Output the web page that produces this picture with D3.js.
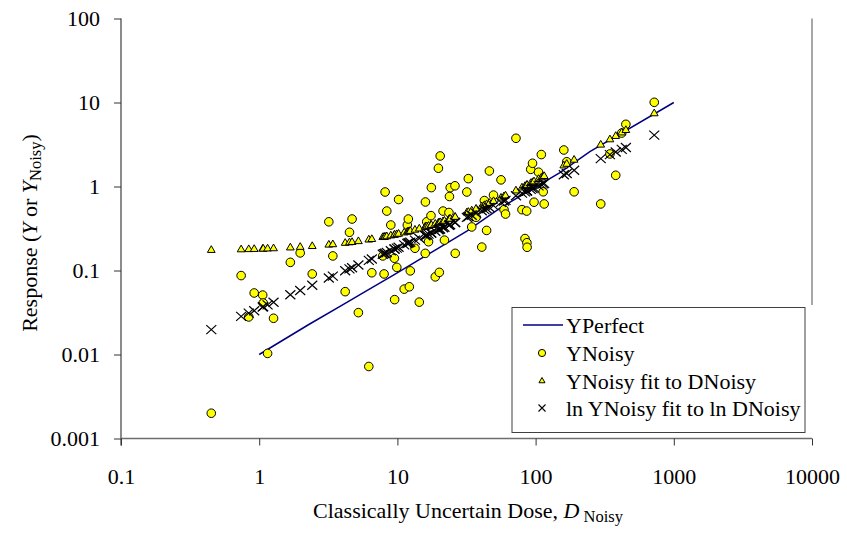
<!DOCTYPE html>
<html><head><meta charset="utf-8">
<script src="https://cdn.jsdelivr.net/npm/d3@7"></script>
<style>
body{margin:0;background:#fff}
svg{display:block}
text{font-family:"Liberation Serif","Times New Roman",serif;fill:#000}
</style>
</head><body>
<svg id="c" width="847" height="537"></svg>
<script>
const xTickValues=[0.1,1,10,100,1000,10000];
const xTickLabels=["0.1","1","10","100","1000","10000"];
const yTickValues=[0.001,0.01,0.1,1,10,100];
const yTickLabels=["0.001","0.01","0.1","1","10","100"];

const dNoisy=[0.45,0.74,0.84,0.92,1.06,1.07,1.15,1.27,1.68,1.98,
2.42,3.19,3.41,4.19,4.50,4.70,5.22,6.21,6.53,7.84,
8.01,8.15,8.38,8.96,9.51,9.55,9.90,10.2,11.2,11.8,
12.0,12.2,12.4,13.4,14.4,15.9,15.95,16.3,16.8,17.5,
17.6,18.8,19.8,20.1,20.4,21.4,21.9,23.6,23.8,24.1,
26.1,26.2,31.8,32.6,34.5,37.1,40.8,42.6,44.2,46.3,
49.6,56.2,59.1,60.6,72.1,79.7,83.8,86.2,86.5,86.8,
92.2,95.0,97.4,105,110,113.5,115.4,160,168,190,
296,345,380,420,450,722];

const yNoisy=[0.0020,0.087,0.028,0.054,0.051,0.041,0.0103,0.027,0.125,0.162,
0.091,0.38,0.149,0.056,0.285,0.41,0.0315,0.0072,0.094,0.149,
0.091,0.86,0.51,0.348,0.14,0.045,0.109,0.70,0.060,0.348,
0.41,0.064,0.099,0.184,0.042,0.16,0.654,0.38,0.22,0.45,
0.97,0.084,1.65,0.095,2.31,0.51,0.23,0.49,0.76,0.97,
1.02,0.16,0.86,1.24,0.33,0.43,0.19,0.68,0.30,1.53,
0.79,1.20,0.53,0.47,3.75,0.53,0.24,0.51,0.214,0.189,
1.60,1.89,0.65,1.48,2.40,0.865,0.62,2.72,1.97,0.865,
0.62,2.44,1.36,4.33,5.50,10.05];

const yFitLinear=[0.1745,0.1774,0.1784,0.1792,0.1806,0.1807,0.1815,0.1827,0.1868,0.1898,
0.1942,0.2019,0.2041,0.2119,0.2150,0.2170,0.2222,0.2321,0.2353,0.2484,
0.2501,0.2515,0.2538,0.2596,0.2651,0.2655,0.2690,0.2720,0.2820,0.2880,
0.2900,0.2920,0.2940,0.3040,0.3140,0.3290,0.3295,0.3330,0.3380,0.3450,
0.3460,0.3580,0.3680,0.3710,0.3740,0.3840,0.3890,0.4060,0.4080,0.4110,
0.4310,0.4320,0.4880,0.4960,0.5150,0.5410,0.5780,0.5960,0.6120,0.6330,
0.6660,0.7320,0.7610,0.7760,0.8910,0.9670,1.008,1.032,1.035,1.038,
1.092,1.120,1.144,1.220,1.270,1.305,1.324,1.770,1.850,2.070,
3.130,3.620,3.970,4.370,4.670,7.390];

const yFitLog=[0.0198,0.0284,0.0311,0.0332,0.0368,0.0371,0.0390,0.0419,0.0514,0.0578,
0.0668,0.0815,0.0856,0.0993,0.1046,0.1079,0.1164,0.1319,0.1368,0.1561,
0.1586,0.1606,0.1638,0.1719,0.1795,0.1800,0.1848,0.1888,0.2020,0.2098,
0.2123,0.2149,0.2174,0.2299,0.2422,0.2602,0.2608,0.2649,0.2707,0.2787,
0.2799,0.2936,0.3048,0.3081,0.3114,0.3224,0.3278,0.3459,0.3480,0.3512,
0.3721,0.3731,0.4291,0.4369,0.4551,0.4796,0.5136,0.5299,0.5443,0.5628,
0.5916,0.6474,0.6714,0.6838,0.7748,0.8331,0.8636,0.8815,0.8837,0.8859,
0.9253,0.9456,0.9629,1.0165,1.0512,1.0753,1.0882,1.378,1.427,1.560,
2.148,2.399,2.573,2.766,2.907,4.089];

const dPerfect=[1,2.27,4.07,6.01,9.36,20.4,31.8,55.3,150,247,1000];
const yPerfect=[0.01,0.0226,0.0395,0.0575,0.088,0.19,0.295,0.552,1.46,2.6,10];

const legendLabels=["YPerfect","YNoisy","YNoisy fit to DNoisy","ln YNoisy fit to ln DNoisy"];

const svg=d3.select("#c");
svg.append("rect").attr("width",847).attr("height",537).attr("fill","#fff");

const x=d3.scaleLog().domain([0.1,10000]).range([121,812]);
const y=d3.scaleLog().domain([0.001,100]).range([438.5,18.5]);

const axisColor="#6e6e6e";
svg.append("line").attr("x1",812).attr("x2",812).attr("y1",y(100)).attr("y2",305)
  .attr("stroke","#8a8a8a").attr("stroke-width",1.5);

// Y axis
const gy=svg.append("g").attr("transform",`translate(${x(0.1)},0)`)
  .call(d3.axisLeft(y).tickValues(yTickValues).tickSize(7).tickPadding(14)
    .tickFormat((d,i)=>yTickLabels[i]));
gy.select(".domain").attr("stroke",axisColor).attr("stroke-width",1.6).attr("d",`M0,${y(100)}V${y(0.001)+7}`);
gy.selectAll(".tick line").attr("stroke","#333").attr("stroke-width",1);
gy.selectAll(".tick text").attr("font-size",22).attr("font-family","Liberation Serif").attr("fill","#000");

// X axis
const gx=svg.append("g").attr("transform",`translate(0,${y(0.001)})`)
  .call(d3.axisBottom(x).tickValues(xTickValues).tickSize(7).tickPadding(23)
    .tickFormat((d,i)=>xTickLabels[i]));
gx.select(".domain").attr("stroke",axisColor).attr("stroke-width",1.6).attr("d",`M${x(0.1)},0H${x(10000)}`);
gx.selectAll(".tick line").attr("stroke","#333").attr("stroke-width",1);
gx.selectAll(".tick text").attr("font-size",22).attr("font-family","Liberation Serif").attr("fill","#000");

// YPerfect line
const perfect=dPerfect.map((d,i)=>[d,yPerfect[i]]);
svg.append("path").datum(perfect)
  .attr("d",d3.line().x(d=>x(d[0])).y(d=>y(d[1])))
  .attr("fill","none").attr("stroke","#000080").attr("stroke-width",1.5);

const samples=dNoisy.map((d,i)=>({d,yn:yNoisy[i],yl:yFitLinear[i],yg:yFitLog[i]}));
svg.append("g").selectAll("circle").data(samples).join("circle")
  .attr("cx",s=>x(s.d)).attr("cy",s=>y(s.yn)).attr("r",4.3)
  .attr("fill","#ffff00").attr("stroke","#000").attr("stroke-width",1);

const tri=d3.symbol().type(d3.symbolTriangle).size(26);
svg.append("g").selectAll("path").data(samples).join("path")
  .attr("transform",s=>`translate(${x(s.d)},${y(s.yl)})`)
  .attr("d",tri).attr("fill","#ffff00").attr("stroke","#000").attr("stroke-width",1);

svg.append("g").selectAll("path").data(samples).join("path")
  .attr("d",s=>{const cx=x(s.d),cy=y(s.yg);return `M${cx-5},${cy-4.5}L${cx+5},${cy+4.5}M${cx+5},${cy-4.5}L${cx-5},${cy+4.5}`;})
  .attr("fill","none").attr("stroke","#000").attr("stroke-width",1.2);

// Legend
const lg=svg.append("g");
lg.append("rect").attr("x",512).attr("y",307.5).attr("width",293).attr("height",125)
  .attr("fill","#fff").attr("stroke","#404040").attr("stroke-width",1);
const rowY=[325,353,381,408];
const sx=542;
lg.append("line").attr("x1",523).attr("x2",563).attr("y1",rowY[0]).attr("y2",rowY[0])
  .attr("stroke","#000080").attr("stroke-width",1.5);
lg.append("circle").attr("cx",sx).attr("cy",rowY[1]).attr("r",3.6)
  .attr("fill","#ffff00").attr("stroke","#000").attr("stroke-width",1);
lg.append("path").attr("transform",`translate(${sx},${rowY[2]})`).attr("d",d3.symbol().type(d3.symbolTriangle).size(16))
  .attr("fill","#ffff00").attr("stroke","#000").attr("stroke-width",1);
lg.append("path").attr("d",`M${sx-3.5},${rowY[3]-3.5}L${sx+3.5},${rowY[3]+3.5}M${sx+3.5},${rowY[3]-3.5}L${sx-3.5},${rowY[3]+3.5}`)
  .attr("stroke","#000").attr("stroke-width",1.1);
legendLabels.forEach((t,i)=>{
  lg.append("text").attr("x",566).attr("y",rowY[i]).attr("dy","0.35em")
    .attr("font-size",22).text(t);
});

// X axis title
const xt=svg.append("text").attr("x",468).attr("y",518).attr("text-anchor","middle").attr("font-size",22);
xt.append("tspan").text("Classically Uncertain Dose, ");
xt.append("tspan").attr("font-style","italic").text("D");
xt.append("tspan").attr("font-size",16.5).attr("dy",4).text(" Noisy");

// Y axis title
const yt=svg.append("text").attr("transform","translate(37,233) rotate(-90)")
  .attr("text-anchor","middle").attr("font-size",22);
yt.append("tspan").text("Response (");
yt.append("tspan").attr("font-style","italic").text("Y");
yt.append("tspan").text(" or ");
yt.append("tspan").attr("font-style","italic").text("Y");
yt.append("tspan").attr("font-size",16.5).attr("dy",4).text("Noisy");
yt.append("tspan").attr("dy",-4).text(")");
</script>
</body></html>
